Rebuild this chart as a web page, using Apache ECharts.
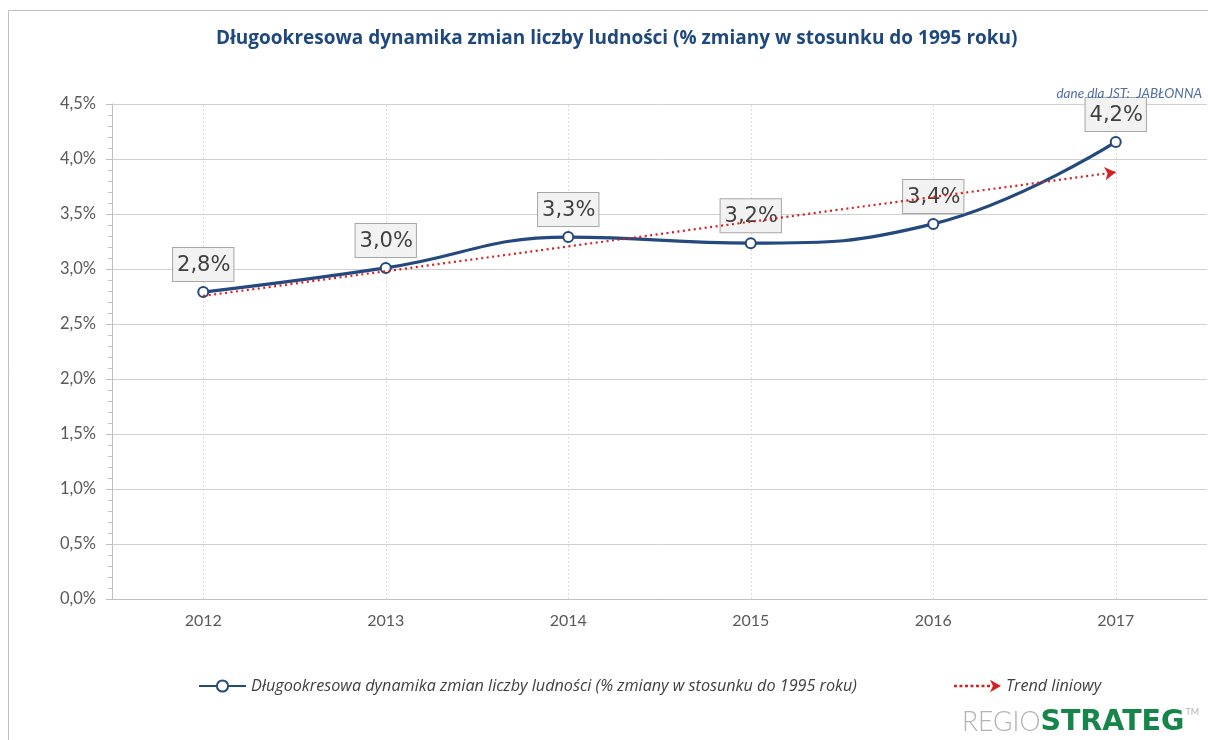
<!DOCTYPE html>
<html>
<head>
<meta charset="utf-8">
<script src="https://cdn.jsdelivr.net/npm/echarts@6/dist/echarts.min.js"></script>
<style>html,body{margin:0;padding:0;background:#fff;}#c{width:1208px;height:740px;}</style>
</head>
<body>
<div id="c"></div>
<script>
var categories = ['2012', '2013', '2014', '2015', '2016', '2017'];
var seriesName = 'Długookresowa dynamika zmian liczby ludności (% zmiany w stosunku do 1995 roku)';
var values = [2.79, 3.01, 3.29, 3.235, 3.41, 4.155];
var trendName = 'Trend liniowy';
var trendStart = 2.755;
var trendEnd = 3.88;
var yTicks = { min: 0, max: 4.5, interval: 0.5 };
var titleText = 'Długookresowa dynamika zmian liczby ludności (% zmiany w stosunku do 1995 roku)';
var subText = 'dane dla JST:  JABŁONNA';

function pct(v, d) { return v.toFixed(d).replace('.', ',') + '%'; }

var chart = echarts.init(document.getElementById('c'));
chart.setOption({
  animation: false,
  title: [
    { text: titleText, left: 211, top: 24,
      textStyle: { fontFamily: 'Open Sans', fontWeight: 'bold', fontSize: 19, color: '#1f497d' } },
    { text: subText, right: 1, top: 82,
      textStyle: { fontFamily: 'Lato', fontStyle: 'italic', fontWeight: 'normal', fontSize: 13.5, color: '#4f6ea8' } }
  ],
  grid: { left: 112, right: 1, top: 104, bottom: 141 },
  legend: {
    bottom: 41, left: 193, itemGap: 97, itemWidth: 47, itemHeight: 14,
    textStyle: { fontFamily: 'Open Sans', fontStyle: 'italic', fontSize: 16.2, color: '#404040' },
    data: [
      { name: seriesName },
      { name: trendName, icon: 'path://M0,5h3v2.4h-3zM5.5,5h3v2.4h-3zM11,5h3v2.4h-3zM16.5,5h3v2.4h-3zM22,5h3v2.4h-3zM27.5,5h3v2.4h-3zM33,5h3v2.4h-3zM36,0L47,6.2L36,12.4L39,6.2z',
        itemStyle: { color: '#d42020' } }
    ]
  },
  xAxis: {
    type: 'category', data: categories, boundaryGap: true,
    axisLine: { lineStyle: { color: '#bfbfbf' } },
    axisTick: { alignWithLabel: true, length: 5, lineStyle: { color: '#bfbfbf' } },
    axisLabel: { fontFamily: 'Lato', fontSize: 16, color: '#595959', margin: 14 },
    splitLine: { show: false }
  },
  yAxis: {
    type: 'value', min: yTicks.min, max: yTicks.max, interval: yTicks.interval,
    axisLine: { show: true, lineStyle: { color: '#bfbfbf' } },
    axisTick: { show: true, length: 6, lineStyle: { color: '#bfbfbf' } },
    minorTick: { show: true, splitNumber: 5, length: 4, lineStyle: { color: '#bfbfbf' } },
    axisLabel: { fontFamily: 'Lato', fontSize: 16.5, color: '#595959', margin: 16,
      formatter: function (v) { return pct(v, 1); } },
    splitLine: { show: true, lineStyle: { color: '#d0d0d0', width: 1 } }
  },
  graphic: [
    { type: 'rect', z: -10, silent: true, shape: { x: 8.5, y: 10.5, width: 1400, height: 900 },
      style: { fill: 'none', stroke: '#bfbfbf', lineWidth: 1 } },
    { type: 'text', left: 962, top: 708, silent: true,
      style: { text: '{a|REGIO}{b|STRATEG}{c|TM}',
        rich: {
          a: { fontFamily: 'Lato', fontSize: 26.5, fontWeight: 300, fill: '#b3b3b3' },
          b: { fontFamily: 'DejaVu Sans', fontSize: 28.5, fontWeight: 'bold', fill: '#15854a' },
          c: { fontFamily: 'Lato', fontSize: 9, fill: '#b3b3b3', verticalAlign: 'top', padding: [0, 0, 14, 1] }
        } } }
  ],
  series: [
    {
      name: seriesName, type: 'line', data: values, smooth: 0.45, z: 3,
      symbol: 'emptyCircle', symbolSize: 10,
      lineStyle: { color: '#24497e', width: 3.2 },
      itemStyle: { color: '#24497e', borderWidth: 3 },
      label: {
        show: true, position: 'top', distance: 5,
        formatter: function (p) { return pct(p.value, 1); },
        fontFamily: 'DejaVu Sans', fontSize: 21, color: '#404040',
        backgroundColor: '#f2f2f2', borderColor: '#a6a6a6', borderWidth: 1, padding: [7, 3, 5, 4]
      },
      markLine: {
        silent: true, symbol: 'none', z: 1, animation: false,
        label: { show: false },
        lineStyle: { color: '#dcdcdc', type: [2, 2], width: 1 },
        data: categories.map(function (c) { return { xAxis: c }; })
      }
    },
    {
      name: trendName, type: 'line', data: [], symbol: 'none', z: 6,
      lineStyle: { color: '#d42020', type: 'dotted', width: 2 },
      itemStyle: { color: '#d42020' },
      markLine: {
        silent: true, z: 6, animation: false,
        symbol: ['none', 'arrow'], symbolSize: [10, 11],
        label: { show: false },
        lineStyle: { color: '#d42020', type: [2, 3.5], width: 2.2 },
        data: [[ { coord: [categories[0], trendStart] }, { coord: [categories[categories.length - 1], trendEnd] } ]]
      }
    }
  ]
});
</script>
</body>
</html>
